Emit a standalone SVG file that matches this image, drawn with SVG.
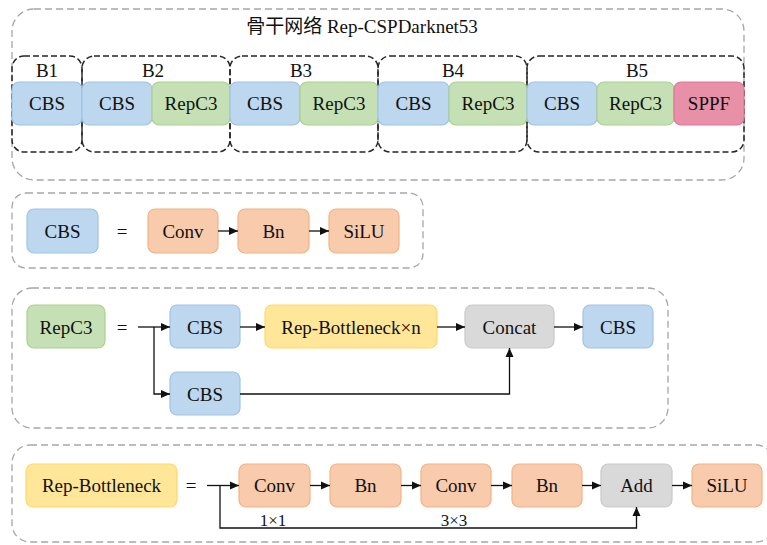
<svg xmlns="http://www.w3.org/2000/svg" width="767" height="545" viewBox="0 0 767 545">
  <style>
    .frame { fill: none; stroke: #A6A6A6; stroke-width: 1.3; stroke-dasharray: 7 4; }
    .stage { fill: none; stroke: #262626; stroke-width: 1.5; stroke-dasharray: 6 3; }
    .cbs { fill: #BDD7EE; stroke: #9DC3E6; stroke-width: 1.2; }
    .rep { fill: #C5E0B4; stroke: #A9D18E; stroke-width: 1.2; }
    .sppf { fill: #E990A9; stroke: #E07595; stroke-width: 1.2; }
    .op { fill: #F8CBAD; stroke: #F4B183; stroke-width: 1.2; }
    .neck { fill: #FFE699; stroke: #FFD966; stroke-width: 1.2; }
    .merge { fill: #D9D9D9; stroke: #C9C9C9; stroke-width: 1.2; }
    text { font-size: 19px; fill: #111; text-anchor: middle; }
    .small { font-size: 17px; }
    .wire { fill: none; stroke: #111; stroke-width: 1.3; }
  </style>
  <defs>
    <marker id="arrow" markerUnits="userSpaceOnUse" markerWidth="10" markerHeight="10" refX="9" refY="5" orient="auto">
      <path d="M0,1 L9,5 L0,9 Z" fill="#111"/>
    </marker>
  </defs>

  <g font-family="'Liberation Serif', 'DejaVu Serif', 'Noto Sans CJK SC', serif">
  <!-- Backbone: Rep-CSPDarknet53 -->
  <g id="backbone">
    <rect class="frame" x="12" y="9" width="732" height="171" rx="22"/>
    <text x="362" y="33">骨干网络 Rep-CSPDarknet53</text>
  </g>
  <g id="stage-b1">
    <rect class="stage" x="12" y="56" width="70" height="96" rx="12"/>
    <text x="47" y="77">B1</text>
  </g>
  <g id="stage-b2">
    <rect class="stage" x="82" y="56" width="148" height="96" rx="12"/>
    <text x="153" y="77">B2</text>
  </g>
  <g id="stage-b3">
    <rect class="stage" x="230" y="56" width="148" height="96" rx="12"/>
    <text x="301" y="77">B3</text>
  </g>
  <g id="stage-b4">
    <rect class="stage" x="378" y="56" width="149" height="96" rx="12"/>
    <text x="453" y="77">B4</text>
  </g>
  <g id="stage-b5">
    <rect class="stage" x="527" y="56" width="217" height="96" rx="12"/>
    <text x="637" y="77">B5</text>
  </g>

  <g id="b1-cbs"><rect class="cbs" x="12" y="82" width="70" height="43" rx="7"/><text x="47" y="110">CBS</text></g>
  <g id="b2-cbs"><rect class="cbs" x="82" y="82" width="70" height="43" rx="7"/><text x="117" y="110">CBS</text></g>
  <g id="b2-repc3"><rect class="rep" x="152" y="82" width="78" height="43" rx="7"/><text x="191" y="110">RepC3</text></g>
  <g id="b3-cbs"><rect class="cbs" x="230" y="82" width="70" height="43" rx="7"/><text x="265" y="110">CBS</text></g>
  <g id="b3-repc3"><rect class="rep" x="300" y="82" width="78" height="43" rx="7"/><text x="339" y="110">RepC3</text></g>
  <g id="b4-cbs"><rect class="cbs" x="378" y="82" width="71" height="43" rx="7"/><text x="413.5" y="110">CBS</text></g>
  <g id="b4-repc3"><rect class="rep" x="449" y="82" width="78" height="43" rx="7"/><text x="488" y="110">RepC3</text></g>
  <g id="b5-cbs"><rect class="cbs" x="527" y="82" width="70" height="43" rx="7"/><text x="562" y="110">CBS</text></g>
  <g id="b5-repc3"><rect class="rep" x="597" y="82" width="77" height="43" rx="7"/><text x="635.5" y="110">RepC3</text></g>
  <g id="b5-sppf"><rect class="sppf" x="674" y="82" width="70" height="43" rx="7"/><text x="709" y="110">SPPF</text></g>

  <!-- CBS definition -->
  <g id="cbs-def">
    <rect class="frame" x="12" y="193" width="411" height="75" rx="14"/>
    <text x="122" y="238">=</text>
  </g>
  <g id="cbs-def-label"><rect class="cbs" x="27" y="209" width="71" height="44" rx="7"/><text x="62.5" y="238">CBS</text></g>
  <g id="cbs-conv"><rect class="op" x="148" y="209" width="70" height="44" rx="7"/><text x="183" y="238">Conv</text></g>
  <g id="cbs-bn"><rect class="op" x="238" y="209" width="71" height="44" rx="7"/><text x="273.5" y="238">Bn</text></g>
  <g id="cbs-silu"><rect class="op" x="329" y="209" width="70" height="44" rx="7"/><text x="364" y="238">SiLU</text></g>

  <!-- RepC3 definition -->
  <g id="repc3-def">
    <rect class="frame" x="12" y="288" width="656" height="140" rx="20"/>
    <text x="122" y="334">=</text>
  </g>
  <g id="repc3-def-label"><rect class="rep" x="27" y="305" width="78" height="43" rx="7"/><text x="66" y="334">RepC3</text></g>
  <g id="repc3-cbs1"><rect class="cbs" x="170" y="305" width="70" height="43" rx="7"/><text x="205" y="334">CBS</text></g>
  <g id="repc3-bottleneck"><rect class="neck" x="265" y="305" width="172" height="43" rx="7"/><text x="351" y="334">Rep-Bottleneck×n</text></g>
  <g id="repc3-concat"><rect class="merge" x="465" y="305" width="89" height="43" rx="7"/><text x="509.5" y="334">Concat</text></g>
  <g id="repc3-cbs-out"><rect class="cbs" x="583" y="305" width="70" height="43" rx="7"/><text x="618" y="334">CBS</text></g>
  <g id="repc3-cbs2"><rect class="cbs" x="170" y="372" width="70" height="43" rx="7"/><text x="205" y="401">CBS</text></g>

  <!-- Rep-Bottleneck definition -->
  <g id="bottleneck-def">
    <rect class="frame" x="12" y="445" width="762" height="97" rx="18"/>
    <text x="191" y="492">=</text>
    <text class="small" x="273" y="526">1×1</text>
    <text class="small" x="454" y="526">3×3</text>
  </g>
  <g id="bottleneck-def-label"><rect class="neck" x="26" y="464" width="151" height="43" rx="7"/><text x="101.5" y="492">Rep-Bottleneck</text></g>
  <g id="bn-conv1"><rect class="op" x="239" y="464" width="71" height="43" rx="7"/><text x="274.5" y="492">Conv</text></g>
  <g id="bn-bn1"><rect class="op" x="330" y="464" width="71" height="43" rx="7"/><text x="365.5" y="492">Bn</text></g>
  <g id="bn-conv2"><rect class="op" x="421" y="464" width="70" height="43" rx="7"/><text x="456" y="492">Conv</text></g>
  <g id="bn-bn2"><rect class="op" x="512" y="464" width="70" height="43" rx="7"/><text x="547" y="492">Bn</text></g>
  <g id="bn-add"><rect class="merge" x="601" y="464" width="71" height="43" rx="7"/><text x="636.5" y="492">Add</text></g>
  <g id="bn-silu"><rect class="op" x="692" y="464" width="70" height="43" rx="7"/><text x="727" y="492">SiLU</text></g>
  </g>

  <!-- Connectors -->
  <g id="connectors" class="wire">
    <path d="M218,231 H238" marker-end="url(#arrow)"/>
    <path d="M309,231 H329" marker-end="url(#arrow)"/>

    <path d="M138,327 H170" marker-end="url(#arrow)"/>
    <path d="M154,327 V394 H170" marker-end="url(#arrow)"/>
    <path d="M240,327 H265" marker-end="url(#arrow)"/>
    <path d="M437,327 H465" marker-end="url(#arrow)"/>
    <path d="M554,327 H583" marker-end="url(#arrow)"/>
    <path d="M240,394 H509.5 V348" marker-end="url(#arrow)"/>

    <path d="M207,485.5 H239" marker-end="url(#arrow)"/>
    <path d="M220,485.5 V528 H636.5 V507" marker-end="url(#arrow)"/>
    <path d="M310,485.5 H330" marker-end="url(#arrow)"/>
    <path d="M401,485.5 H421" marker-end="url(#arrow)"/>
    <path d="M491,485.5 H512" marker-end="url(#arrow)"/>
    <path d="M582,485.5 H601" marker-end="url(#arrow)"/>
    <path d="M672,485.5 H692" marker-end="url(#arrow)"/>
  </g>
</svg>
